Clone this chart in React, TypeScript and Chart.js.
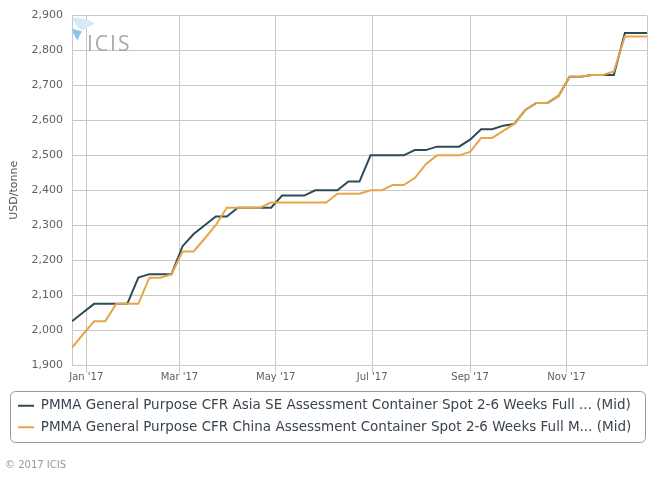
import React, { useEffect, useRef } from 'react';
import { Chart, registerables } from 'chart.js';

Chart.register(...registerables);

// Weekly assessment dates (Fridays)
const weekDates = [
  '2016-12-23', '2016-12-30',
  '2017-01-06', '2017-01-13', '2017-01-20', '2017-01-27',
  '2017-02-03', '2017-02-10', '2017-02-17', '2017-02-24',
  '2017-03-03', '2017-03-10', '2017-03-17', '2017-03-24', '2017-03-31',
  '2017-04-07', '2017-04-14', '2017-04-21', '2017-04-28',
  '2017-05-05', '2017-05-12', '2017-05-19', '2017-05-26',
  '2017-06-02', '2017-06-09', '2017-06-16', '2017-06-23', '2017-06-30',
  '2017-07-07', '2017-07-14', '2017-07-21', '2017-07-28',
  '2017-08-04', '2017-08-11', '2017-08-18', '2017-08-25',
  '2017-09-01', '2017-09-08', '2017-09-15', '2017-09-22', '2017-09-29',
  '2017-10-06', '2017-10-13', '2017-10-20', '2017-10-27',
  '2017-11-03', '2017-11-10', '2017-11-17', '2017-11-24',
  '2017-12-01', '2017-12-08', '2017-12-15', '2017-12-22',
];

// PMMA General Purpose CFR Asia SE (USD/tonne, mid)
const asiaSE = [
  2025, 2050,
  2075, 2075, 2075, 2075,
  2150, 2160, 2160, 2160,
  2240, 2275, 2300, 2325, 2325,
  2350, 2350, 2350, 2350,
  2385, 2385, 2385, 2400,
  2400, 2400, 2425, 2425, 2500,
  2500, 2500, 2500, 2515,
  2515, 2525, 2525, 2525,
  2545, 2575, 2575, 2585, 2590,
  2630, 2650, 2650, 2670,
  2725, 2725, 2730, 2730,
  2730, 2850, 2850, 2850,
];

// PMMA General Purpose CFR China (USD/tonne, mid)
const china = [
  1950, 1988,
  2025, 2025, 2075, 2075,
  2075, 2150, 2150, 2160,
  2225, 2225, 2262, 2300, 2350,
  2350, 2350, 2350, 2365,
  2365, 2365, 2365, 2365,
  2365, 2390, 2390, 2390, 2400,
  2400, 2415, 2415, 2435,
  2475, 2500, 2500, 2500,
  2510, 2550, 2550, 2570, 2590,
  2630, 2650, 2650, 2670,
  2725, 2725, 2730, 2730,
  2740, 2840, 2840, 2840,
];

const seriesNames = [
  'PMMA General Purpose CFR Asia SE Assessment Container Spot 2-6 Weeks Full ... (Mid)',
  'PMMA General Purpose CFR China Assessment Container Spot 2-6 Weeks Full M... (Mid)',
];
const seriesColors = ['#2c4b54', '#e6a548'];

const xTickDates = ['2017-01-01', '2017-03-01', '2017-05-01', '2017-07-01', '2017-09-01', '2017-11-01'];
const xTickLabels = ["Jan '17", "Mar '17", "May '17", "Jul '17", "Sep '17", "Nov '17"];
const yMin = 1900;
const yMax = 2900;
const yStep = 100;
const yTitle = 'USD/tonne';
const footerText = '\u00a9 2017 ICIS';
const logoText = 'ICIS';

const toMs = (s: string) => Date.parse(s + 'T00:00:00Z');
const FONT = "'DejaVu Sans', sans-serif";
const GRID = '#c8c8c8';

const decorPlugin = {
  id: 'decor',
  beforeDatasetsDraw(chart: any) {
    const { ctx, chartArea } = chart;
    const x0 = chartArea.left;
    const y0 = chartArea.top;
    ctx.save();
    // logo petals
    ctx.fillStyle = '#d6e9f4';
    ctx.beginPath();
    ctx.moveTo(x0 + 0, y0 + 2);
    ctx.quadraticCurveTo(x0 + 14, y0 + 2, x0 + 23, y0 + 8);
    ctx.lineTo(x0 + 10, y0 + 15);
    ctx.quadraticCurveTo(x0 + 3, y0 + 10, x0 + 0, y0 + 2);
    ctx.fill();
    ctx.fillStyle = '#8ec5e6';
    ctx.beginPath();
    ctx.moveTo(x0 + 0, y0 + 13);
    ctx.lineTo(x0 + 10, y0 + 16);
    ctx.quadraticCurveTo(x0 + 7, y0 + 20, x0 + 6, y0 + 25);
    ctx.quadraticCurveTo(x0 + 1, y0 + 20, x0 + 0, y0 + 13);
    ctx.fill();
    ctx.fillStyle = '#a9a9a9';
    ctx.font = "21px 'Open Sans', sans-serif";
    (ctx as any).letterSpacing = '2px';
    ctx.textBaseline = 'alphabetic';
    ctx.textAlign = 'left';
    ctx.fillText(logoText, x0 + 15, y0 + 35);
    (ctx as any).letterSpacing = '0px';
    ctx.restore();
  },
  afterDraw(chart: any) {
    const { ctx, chartArea } = chart;
    ctx.save();
    // right plot border
    ctx.strokeStyle = GRID;
    ctx.lineWidth = 1;
    ctx.beginPath();
    const rx = Math.round(chartArea.right) + 0.5;
    ctx.moveTo(rx, chartArea.top);
    ctx.lineTo(rx, chartArea.bottom);
    ctx.stroke();
    // legend frame
    const lg = chart.legend;
    const hb = lg && lg.legendHitBoxes;
    if (hb && hb.length) {
      const first = hb[0];
      const last = hb[hb.length - 1];
      const top = Math.round(first.top + first.height / 2 - 15) + 0.5;
      const bottom = Math.round(last.top + last.height / 2 + 15) + 0.5;
      const left = 10.5;
      const right = 645.5;
      const r = 5;
      ctx.strokeStyle = '#999999';
      ctx.beginPath();
      ctx.moveTo(left + r, top);
      ctx.lineTo(right - r, top);
      ctx.arcTo(right, top, right, top + r, r);
      ctx.lineTo(right, bottom - r);
      ctx.arcTo(right, bottom, right - r, bottom, r);
      ctx.lineTo(left + r, bottom);
      ctx.arcTo(left, bottom, left, bottom - r, r);
      ctx.lineTo(left, top + r);
      ctx.arcTo(left, top, left + r, top, r);
      ctx.closePath();
      ctx.stroke();
    }
    ctx.restore();
  },
};

export default function App() {
  const canvasRef = useRef<HTMLCanvasElement | null>(null);

  useEffect(() => {
    if (!canvasRef.current) return;
    Chart.defaults.font.family = FONT;
    const xs = weekDates.map(toMs);
    const chart = new Chart(canvasRef.current, {
      type: 'line',
      data: {
        datasets: [
          {
            label: seriesNames[0],
            data: xs.map((x, i) => ({ x, y: asiaSE[i] })),
            borderColor: seriesColors[0],
            backgroundColor: seriesColors[0],
            borderWidth: 2,
            pointRadius: 0,
            tension: 0,
            order: 1,
          },
          {
            label: seriesNames[1],
            data: xs.map((x, i) => ({ x, y: china[i] })),
            borderColor: seriesColors[1],
            backgroundColor: seriesColors[1],
            borderWidth: 2,
            pointRadius: 0,
            tension: 0,
            order: 0,
          },
        ],
      },
      options: {
        responsive: false,
        animation: false,
        layout: { padding: { left: 10, right: 21, top: 10, bottom: 34 } },
        plugins: {
          tooltip: { enabled: false },
          legend: {
            position: 'bottom',
            align: 'start',
            labels: {
              usePointStyle: true,
              pointStyle: 'line',
              pointStyleWidth: 16,
              boxWidth: 16,
              boxHeight: 13,
              padding: 8,
              color: '#3a4550',
              font: { size: 13.5, family: FONT },
              sort: (a: any, b: any) => a.datasetIndex - b.datasetIndex,
            },
          },
        },
        scales: {
          x: {
            type: 'linear',
            min: xs[0],
            max: xs[xs.length - 1],
            afterBuildTicks: (scale: any) => {
              scale.ticks = xTickDates.map((d) => ({ value: toMs(d) }));
            },
            afterFit: (scale: any) => {
              scale.height = 26;
            },
            grid: {
              color: GRID,
              lineWidth: 1,
              drawTicks: true,
              tickLength: 8,
              tickColor: '#c0ccd8',
            },
            border: { display: true, color: '#c0ccd8', width: 1 },
            ticks: {
              autoSkip: false,
              maxRotation: 0,
              padding: -2,
              color: '#606060',
              font: { size: 10, family: FONT },
              callback: (_v: any, i: number) => xTickLabels[i],
            },
          },
          y: {
            min: yMin,
            max: yMax,
            afterFit: (scale: any) => {
              scale.width = 62;
            },
            grid: { color: GRID, lineWidth: 1, drawTicks: false },
            border: { display: true, color: GRID, width: 1 },
            ticks: {
              stepSize: yStep,
              padding: 9,
              color: '#606060',
              font: { size: 11, family: FONT },
              callback: (v: any) => Number(v).toLocaleString('en-US'),
            },
            title: {
              display: true,
              text: yTitle,
              color: '#555555',
              font: { size: 11, family: FONT },
              padding: { top: -2, bottom: 0 },
            },
          },
        },
      },
      plugins: [decorPlugin],
    } as any);
    return () => chart.destroy();
  }, []);

  return (
    <div
      style={{
        position: 'absolute',
        left: 0,
        top: 0,
        width: 668,
        height: 478,
        background: '#ffffff',
        overflow: 'hidden',
      }}
    >
      <canvas ref={canvasRef} width={668} height={478} style={{ display: 'block', width: 668, height: 478 }} />
      <span
        style={{
          position: 'absolute',
          left: 5,
          top: 459,
          fontFamily: FONT,
          fontSize: 10,
          lineHeight: '12px',
          color: '#999999',
          whiteSpace: 'nowrap',
        }}
      >
        {footerText}
      </span>
    </div>
  );
}
